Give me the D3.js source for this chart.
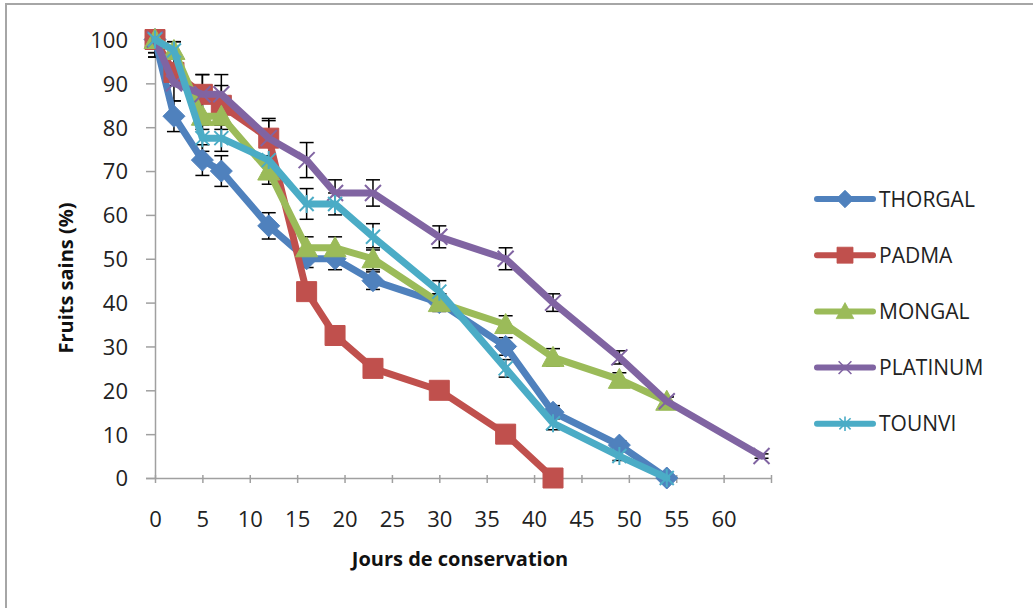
<!DOCTYPE html>
<html>
<head>
<meta charset="utf-8">
<script src="https://cdn.jsdelivr.net/npm/d3@7"></script>
<style>
  body { margin: 0; background: #fff; }
  svg { display: block; font-family: "Open Sans", sans-serif; }
</style>
</head>
<body>
<svg width="1033" height="608"></svg>
<script>
// conservation days (x) shared by every variety:
var days = [0, 2, 5, 7, 12, 16, 19, 23, 30, 37, 42, 49, 54, 64];

// healthy fruits (%) and error bar half-widths, one pair per variety:
var thorgal     = [100, 82.5, 72.5, 70, 57.5, 50, 50, 45, 40, 30, 15, 7.5, 0],
    thorgal_err = [4, 3.5, 3.5, 3.5, 3, 2, 2.5, 2, 2, 2, 1.5, 1, 0.5],
    padma       = [100, 92.5, 87.5, 85, 77.5, 42.5, 32.5, 25, 20, 10, 0],
    padma_err   = [4, 3, 4.5, 4.5, 4.5, 1.5, 1.5, 1, 1, 1, 0.5],
    mongal      = [100, 97.5, 82.5, 82.5, 70, 52.5, 52.5, 50, 40, 35, 27.5, 22.5, 17.5],
    mongal_err  = [2, 2, 3, 3, 3, 2.5, 2.5, 2.5, 2, 2, 2, 1.5, 1],
    platinum    = [100, 90, 87.5, 87.5, 77.5, 72.5, 65, 65, 55, 50, 40, 27.5, 17.5, 5],
    platinum_err= [3, 4, 4.5, 4.5, 4, 4, 3, 3, 2.5, 2.5, 2, 1.5, 1, 0.5],
    tounvi      = [100, 97.5, 77.5, 77.5, 72.5, 62.5, 62.5, 55, 42.5, 25, 12.5, 5, 0],
    tounvi_err  = [3, 2, 3, 3, 3, 3.5, 2.5, 3, 2.5, 2, 1.5, 1, 0.5];

var names  = ['THORGAL', 'PADMA', 'MONGAL', 'PLATINUM', 'TOUNVI'],
    colors = ['#4f81bd', '#c0504d', '#9bbb59', '#8064a2', '#4bacc6'],
    shapes = ['diamond', 'square', 'triangle', 'x', 'star'];

var x_ticks = [0, 5, 10, 15, 20, 25, 30, 35, 40, 45, 50, 55, 60, 65],
    x_labels = [0, 5, 10, 15, 20, 25, 30, 35, 40, 45, 50, 55, 60],
    y_ticks = [0, 10, 20, 30, 40, 50, 60, 70, 80, 90, 100];

var series = [
    [thorgal, thorgal_err], [padma, padma_err], [mongal, mongal_err],
    [platinum, platinum_err], [tounvi, tounvi_err]
].map( (s, i) => ({
    name: names[i], color: colors[i], shape: shapes[i],
    points: s[0].map( (v, j) => ({ x: days[j], y: v, e: s[1][j] }) )
}) );

// marker path for each shape, centred on 0,0:
function marker(shape) {
    switch (shape) {
    case 'diamond':  return 'M0,-11L11,0L0,11L-11,0Z';
    case 'square':   return 'M-10,-10H10V10H-10Z';
    case 'triangle': return 'M0,-11L11,9H-11Z';
    case 'x':        return 'M-8,-8L8,8M-8,8L8,-8';
    case 'star':     return 'M-7,-7L7,7M-7,7L7,-7M0,-9V9';
    }
}
var stroked = { x: true, star: true };

var svg = d3.select('svg'),
    x = d3.scaleLinear().domain([0, 65]).range([155, 771]),
    y = d3.scaleLinear().domain([0, 100]).range([478, 39.5]),
    axis_colour = '#a0a0a0'
;

// outer frame (only the top and left edges are visible):
svg.append('path')
    .attr('d', 'M6,608V4H1033')
    .attr('fill', 'none')
    .attr('stroke', '#a6a6a6')
    .attr('stroke-width', 2);

// axes:
var gx = svg.append('g')
    .attr('transform', 'translate(0,' + y(0) + ')')
    .call(d3.axisBottom(x).tickValues(x_ticks).tickSizeOuter(0)
          .tickFormat( d => x_labels.indexOf(d) >= 0 ? d : '' ));
gx.selectAll('.tick line').attr('y1', -3).attr('y2', 5);
gx.selectAll('.tick text').attr('dy', 0).attr('y', 49);

var gy = svg.append('g')
    .attr('transform', 'translate(' + x(0) + ',0)')
    .call(d3.axisLeft(y).tickValues(y_ticks).tickSizeOuter(0).tickSize(9));
gy.selectAll('.tick text').attr('x', -27).attr('dy', '0.36em');

[gx, gy].forEach( g => {
    g.select('.domain').attr('stroke', axis_colour).attr('stroke-width', 1.5);
    g.selectAll('.tick line').attr('stroke', axis_colour).attr('stroke-width', 1.5);
    g.selectAll('.tick text')
        .attr('fill', '#222')
        .style('font-size', '22px')
        .style('font-family', '"Open Sans", sans-serif');
});

// axis titles:
svg.append('text')
    .attr('x', 460).attr('y', 566)
    .attr('text-anchor', 'middle')
    .style('font-size', '20px').style('font-weight', 'bold')
    .attr('fill', '#111')
    .text('Jours de conservation');

svg.append('text')
    .attr('transform', 'translate(73,278) rotate(-90)')
    .attr('text-anchor', 'middle')
    .style('font-size', '20px').style('font-weight', 'bold')
    .attr('fill', '#111')
    .text('Fruits sains (%)');

// error bars, clipped to the axis range:
var eb = svg.append('g')
    .attr('stroke', '#000')
    .attr('stroke-width', 1.5);
series.forEach( s => s.points.forEach( p => {
    if ( !p.e ) return;
    var top = Math.min(100, p.y + p.e),
        bottom = Math.max(0, p.y - p.e),
        cx = x(p.x);
    eb.append('line').attr('x1', cx).attr('x2', cx)
        .attr('y1', y(top)).attr('y2', y(bottom));
    if ( p.y + p.e <= 100 )
        eb.append('line').attr('x1', cx - 7).attr('x2', cx + 7)
            .attr('y1', y(top)).attr('y2', y(top));
    if ( p.y - p.e >= 0 )
        eb.append('line').attr('x1', cx - 7).attr('x2', cx + 7)
            .attr('y1', y(bottom)).attr('y2', y(bottom));
}) );

// lines and markers:
var line = d3.line().x( d => x(d.x) ).y( d => y(d.y) );

series.forEach( s => {
    var g = svg.append('g');
    g.append('path')
        .datum(s.points)
        .attr('d', line)
        .attr('fill', 'none')
        .attr('stroke', s.color)
        .attr('stroke-width', 7)
        .attr('stroke-linejoin', 'round')
        .attr('stroke-linecap', 'round');
    g.selectAll('.marker')
        .data(s.points)
        .enter().append('path')
        .attr('class', 'marker')
        .attr('transform', d => 'translate(' + x(d.x) + ',' + y(d.y) + ')')
        .attr('d', marker(s.shape))
        .attr('fill', stroked[s.shape] ? 'none' : s.color)
        .attr('stroke', s.color)
        .attr('stroke-width', stroked[s.shape] ? 2 : 1);
});

// legend:
var legend = svg.append('g')
    .selectAll('g')
    .data(series)
    .enter().append('g')
    .attr('transform', (d, i) => 'translate(817,' + (199 + i * 56.2) + ')');

legend.append('line')
    .attr('x1', 0).attr('x2', 56)
    .attr('stroke', d => d.color)
    .attr('stroke-width', 6)
    .attr('stroke-linecap', 'round');

legend.append('path')
    .attr('transform', 'translate(28,0) scale(0.8)')
    .attr('d', d => marker(d.shape))
    .attr('fill', d => stroked[d.shape] ? 'none' : d.color)
    .attr('stroke', d => d.color)
    .attr('stroke-width', d => stroked[d.shape] ? 2 : 1);

legend.append('text')
    .attr('x', 62)
    .attr('dy', '0.36em')
    .attr('fill', '#222')
    .style('font-size', '21px')
    .text(d => d.name);
</script>
</body>
</html>
